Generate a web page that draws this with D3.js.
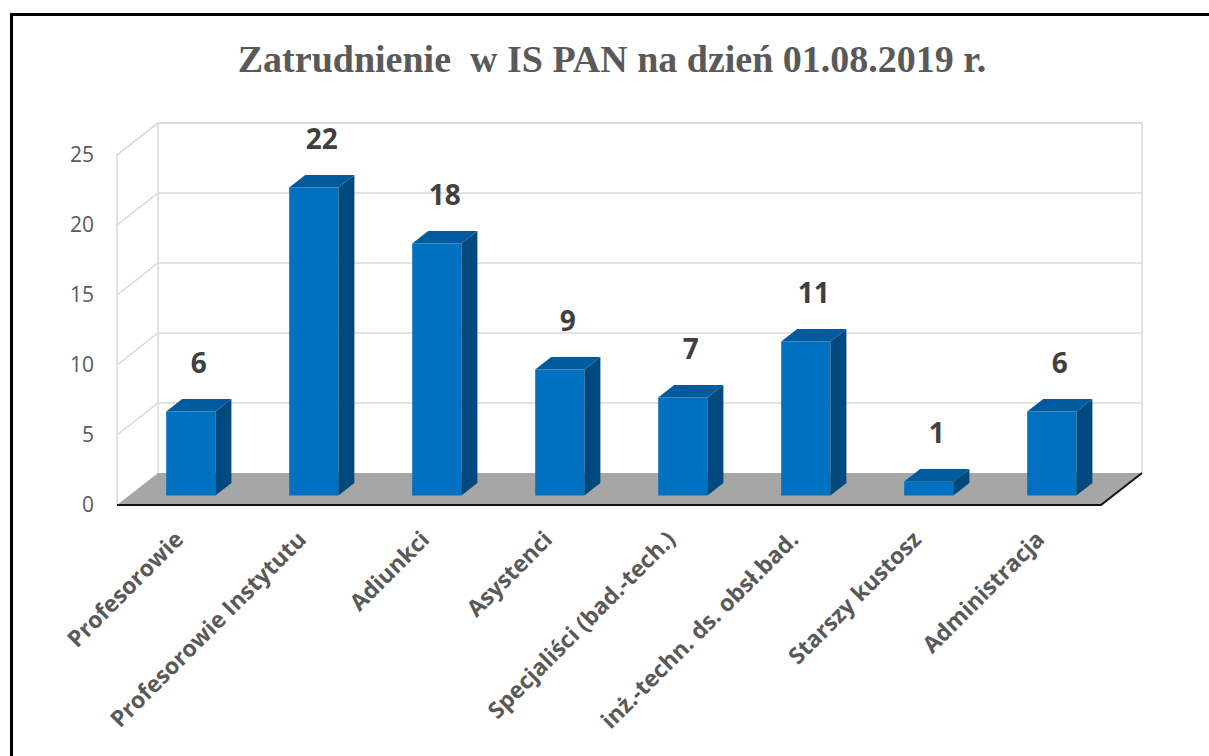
<!DOCTYPE html>
<html lang="pl">
<head>
    <meta charset="utf-8">
    <title>Zatrudnienie w IS PAN</title>
    <script src="https://cdn.jsdelivr.net/npm/d3@7"></script>
    <style>
        body { margin: 0; background: #fff; }
        svg { display: block; }
    </style>
</head>
<body>
    <script type="text/javascript">
        // dane z wykresu
        var title = "Zatrudnienie  w IS PAN na dzień 01.08.2019 r.";
        var categories = ["Profesorowie", "Profesorowie Instytutu", "Adiunkci", "Asystenci",
            "Specjaliści (bad.-tech.)", "inż.-techn. ds. obsł.bad.", "Starszy kustosz", "Administracja"];
        var values = [6, 22, 18, 9, 7, 11, 1, 6];
        var yTicks = [0, 5, 10, 15, 20, 25];

        var width = 1209;
        var height = 756;

        // "3D" plot box: front plane + depth offset
        var plotLeft = 117, plotRight = 1101;
        var depthX = 41, depthY = 32;
        var zFront = 0.3, zBack = 0.69;

        var svg = d3.select("body").append("svg")
            .attr("width", width)
            .attr("height", height);

        // chart border
        svg.append("rect")
            .attr("x", 11.5).attr("y", 14.5)
            .attr("width", 1260).attr("height", 800)
            .attr("fill", "none")
            .attr("stroke", "#000")
            .attr("stroke-width", 3);

        svg.append("text")
            .attr("x", 612).attr("y", 72)
            .attr("text-anchor", "middle")
            .style("white-space", "pre")
            .attr("font-family", "'Liberation Serif', 'Times New Roman', serif")
            .attr("font-weight", "bold")
            .attr("font-size", 38)
            .attr("fill", "#595959")
            .text(title);

        var x = d3.scaleBand()
            .domain(categories)
            .range([plotLeft, plotRight])
            .paddingInner(0.6)
            .paddingOuter(0.3);

        var y = d3.scaleLinear()
            .domain([0, 25])
            .range([505, 155]);

        function P(px, v, z) {
            return [px + z * depthX, y(v) - z * depthY];
        }
        var line = d3.line();

        // walls
        var grid = "#d9d9d9";
        svg.append("path")
            .attr("d", line([P(plotLeft, 0, 0), P(plotLeft, 25, 0), P(plotLeft, 25, 1), P(plotRight, 25, 1), P(plotRight, 0, 1)]) + "M" + P(plotLeft, 25, 1) + "L" + P(plotLeft, 0, 1))
            .attr("fill", "none")
            .attr("stroke", grid)
            .attr("stroke-width", 1.5);

        svg.selectAll(".grid")
            .data(yTicks.filter(function (t) { return t > 0; }))
            .enter()
            .append("path")
            .attr("class", "grid")
            .attr("d", function (t) {
                return line([P(plotLeft, t, 0), P(plotLeft, t, 1), P(plotRight, t, 1)]);
            })
            .attr("fill", "none")
            .attr("stroke", grid)
            .attr("stroke-width", 1.5);

        // floor
        svg.append("path")
            .attr("d", line([P(plotLeft, 0, 0), P(plotRight, 0, 0), P(plotRight, 0, 1), P(plotLeft, 0, 1)]) + "Z")
            .attr("fill", "#a6a6a6");
        svg.append("path")
            .attr("d", line([P(plotLeft, 0, 0), P(plotRight, 0, 0), P(plotRight, 0, 1)]))
            .attr("fill", "none")
            .attr("stroke", "#111")
            .attr("stroke-width", 2);

        // y axis labels
        svg.selectAll(".ytick")
            .data(yTicks)
            .enter()
            .append("text")
            .attr("class", "ytick")
            .attr("x", plotLeft - 23)
            .attr("y", function (t) { return y(t); })
            .attr("dy", "0.35em")
            .attr("text-anchor", "end")
            .attr("font-family", "'Open Sans', sans-serif")
            .attr("font-size", 21)
            .attr("fill", "#595959")
            .text(function (t) { return t; });

        // bars
        var bw = x.bandwidth();
        var bars = svg.selectAll(".bar")
            .data(values)
            .enter()
            .append("g")
            .attr("class", "bar");

        bars.append("path")
            .attr("d", function (v, i) {
                var x0 = x(categories[i]);
                return line([P(x0, 0, zFront), P(x0 + bw, 0, zFront), P(x0 + bw, v, zFront), P(x0, v, zFront)]) + "Z";
            })
            .attr("fill", "#0070c0");

        bars.append("path")
            .attr("d", function (v, i) {
                var x1 = x(categories[i]) + bw;
                return line([P(x1, 0, zFront), P(x1, 0, zBack), P(x1, v, zBack), P(x1, v, zFront)]) + "Z";
            })
            .attr("fill", "#00497e");

        bars.append("path")
            .attr("d", function (v, i) {
                var x0 = x(categories[i]);
                return line([P(x0, v, zFront), P(x0 + bw, v, zFront), P(x0 + bw, v, zBack), P(x0, v, zBack)]) + "Z";
            })
            .attr("fill", "#005a9e");

        // value labels
        svg.selectAll(".val")
            .data(values)
            .enter()
            .append("text")
            .attr("class", "val")
            .attr("x", function (v, i) {
                return x(categories[i]) + zFront * depthX + (bw + (zBack - zFront) * depthX) / 2;
            })
            .attr("y", function (v) { return y(v) - zBack * depthY - 26; })
            .attr("text-anchor", "middle")
            .attr("font-family", "'Open Sans', sans-serif")
            .attr("font-weight", "bold")
            .attr("font-size", 28)
            .attr("fill", "#404040")
            .text(function (v) { return v; });

        // category labels
        svg.selectAll(".cat")
            .data(categories)
            .enter()
            .append("text")
            .attr("class", "cat")
            .attr("transform", function (c) {
                var cx = x(c) + zFront * depthX + bw / 2 - 6;
                return "translate(" + cx + "," + (y(0) + 36) + ") rotate(-45)";
            })
            .attr("text-anchor", "end")
            .attr("font-family", "'Open Sans', sans-serif")
            .attr("font-weight", "bold")
            .attr("font-size", 23)
            .attr("fill", "#595959")
            .text(function (c) { return c; });
    </script>
</body>
</html>
